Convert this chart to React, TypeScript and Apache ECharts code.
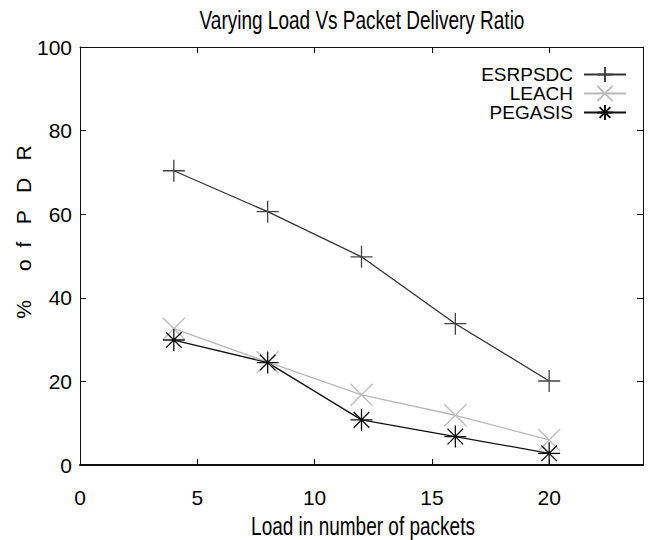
import React, { useEffect, useRef } from "react";
import * as echarts from "echarts";

const loads = [4, 8, 12, 16, 20];
const esrpsdc = [70.4, 60.6, 49.8, 33.8, 20.1];
const leach = [32.6, 24.6, 16.8, 11.9, 6.0];
const pegasis = [29.9, 24.5, 10.8, 6.8, 2.8];
const xTicks = [0, 5, 10, 15, 20];
const yTicks = [0, 20, 40, 60, 80, 100];
const seriesNames = ["ESRPSDC", "LEACH", "PEGASIS"];

const SANS = "'Liberation Sans', Arial, sans-serif";

const PLUS = "path://M0 10L20 10M10 0L10 20";
const CROSS = "path://M0 0L20 20M20 0L0 20";
const STAR = "path://M0 10L20 10M10 0L10 20M2.9 2.9L17.1 17.1M17.1 2.9L2.9 17.1";

export default function App() {
  const ref = useRef<HTMLDivElement>(null);
  useEffect(() => {
    document.body.style.margin = "0";
    if (!ref.current) return;
    const chart = echarts.init(ref.current, null, { renderer: "svg" });
    const mk = (name: string, data: number[], color: string, symbol: string, symColor: string) => ({
      name,
      type: "line",
      data: loads.map((x, i) => [x, data[i]]),
      symbol,
      symbolSize: 22,
      showAllSymbol: true,
      lineStyle: { color, width: 1.3 },
      itemStyle: { color: "rgba(0,0,0,0)", borderColor: symColor, borderWidth: 1.3 },
      emphasis: { disabled: true },
    });
    chart.setOption({
      animation: false,
      backgroundColor: "#ffffff",
      grid: { left: 80, right: 11, top: 47, bottom: 75 },
      graphic: [
        {
          type: "text",
          x: 362,
          y: 20,
          scaleY: 1.4,
          style: {
            text: "Varying Load Vs Packet Delivery Ratio",
            font: `19px ${SANS}`,
            fill: "#000",
            textAlign: "center",
            textVerticalAlign: "middle",
          },
        },
        {
          type: "text",
          x: 363,
          y: 526,
          scaleY: 1.4,
          style: {
            text: "Load in number of packets",
            font: `19px ${SANS}`,
            fill: "#000",
            textAlign: "center",
            textVerticalAlign: "middle",
          },
        },
        {
          type: "text",
          x: 23,
          y: 232,
          rotation: Math.PI / 2,
          style: {
            text: "%     o  f   P   D   R",
            font: `21px ${SANS}`,
            fill: "#000",
            textAlign: "center",
            textVerticalAlign: "middle",
          },
        },
      ],
      legend: {
        orient: "vertical",
        right: 22,
        top: 60,
        align: "right",
        itemWidth: 42,
        itemHeight: 19,
        itemGap: 0,
        selectedMode: false,
        textStyle: { fontFamily: SANS, fontSize: 19, color: "#000", lineHeight: 19, padding: [0, 6, 0, 0] },
        data: seriesNames,
      },
      xAxis: [
        {
          type: "value",
          min: 0,
          max: 24,
          interval: 5,
          axisLine: { show: true, onZero: false, lineStyle: { color: "#111", width: 2 } },
          axisTick: { show: true, inside: true, length: 6, lineStyle: { color: "#111" } },
          axisLabel: {
            show: true,
            margin: 22,
            fontFamily: SANS,
            fontSize: 21,
            color: "#000",
            showMaxLabel: false,
            formatter: (v: number) => (xTicks.includes(v) ? String(v) : ""),
          },
          splitLine: { show: false },
        },
        {
          type: "value",
          position: "top",
          min: 0,
          max: 24,
          interval: 5,
          axisLine: { show: true, onZero: false, lineStyle: { color: "#111", width: 1 } },
          axisTick: { show: true, inside: true, length: 6, lineStyle: { color: "#111" } },
          axisLabel: { show: false },
          splitLine: { show: false },
        },
      ],
      yAxis: [
        {
          type: "value",
          min: 0,
          max: 100,
          interval: 20,
          axisLine: { show: true, onZero: false, lineStyle: { color: "#111", width: 1 } },
          axisTick: { show: true, inside: true, length: 6, lineStyle: { color: "#111" } },
          axisLabel: {
            show: true,
            margin: 8,
            fontFamily: SANS,
            fontSize: 21,
            color: "#000",
            padding: [6, 0, 0, 0],
            formatter: (v: number) => (yTicks.includes(v) ? String(v) : ""),
          },
          splitLine: { show: false },
        },
        {
          type: "value",
          position: "right",
          min: 0,
          max: 100,
          interval: 20,
          axisLine: { show: true, onZero: false, lineStyle: { color: "#111", width: 1 } },
          axisTick: { show: true, inside: true, length: 6, lineStyle: { color: "#111" } },
          axisLabel: { show: false },
          splitLine: { show: false },
        },
      ],
      series: [
        mk(seriesNames[0], esrpsdc, "#333333", PLUS, "#444444"),
        mk(seriesNames[1], leach, "#b8b8b8", CROSS, "#bdbdbd"),
        mk(seriesNames[2], pegasis, "#111111", STAR, "#111111"),
      ],
    });
    return () => chart.dispose();
  }, []);
  return <div ref={ref} style={{ width: 654, height: 540 }} />;
}
